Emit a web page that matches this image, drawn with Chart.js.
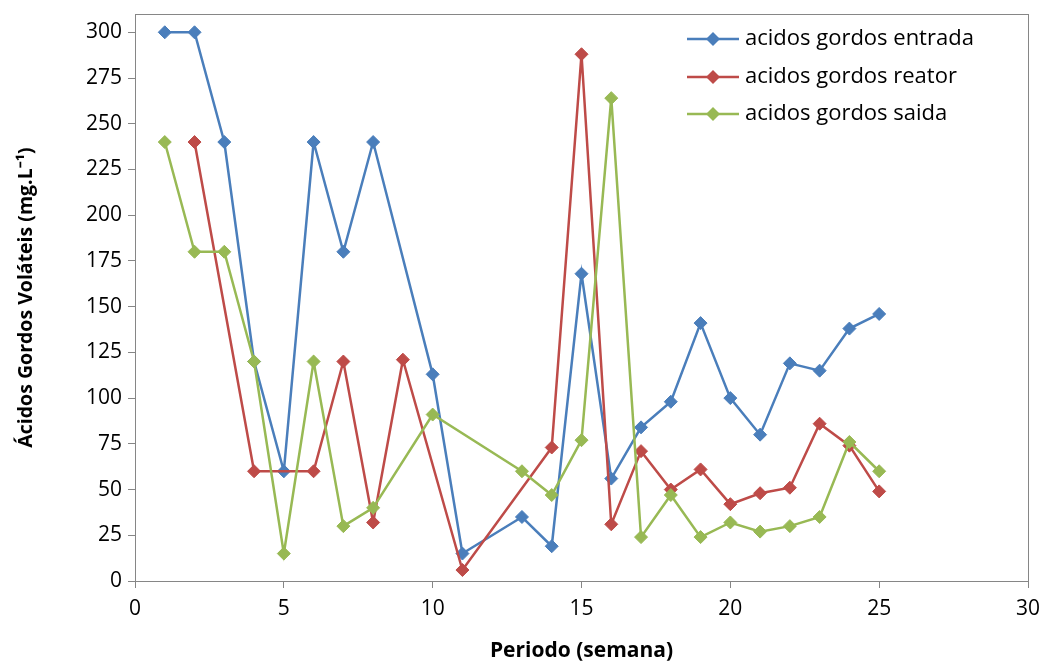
<!DOCTYPE html>
<html lang="pt">
<head>
<meta charset="UTF-8">
<title>Ácidos Gordos Voláteis</title>
<script src="https://cdn.jsdelivr.net/npm/chart.js"></script>
<style>
body { margin: 0; background: #fff; }
#wrap { width: 1043px; height: 668px; }
</style>
</head>
<body>
<div id="wrap"><canvas id="grafico"></canvas></div>
<script>
// semanas e valores
var semanasEntrada = [1, 2, 3, 4, 5, 6, 7, 8, 10, 11, 13, 14, 15, 16, 17, 18, 19, 20, 21, 22, 23, 24, 25];
var entrada = [300, 300, 240, 120, 60, 240, 180, 240, 113, 15, 35, 19, 168, 56, 84, 98, 141, 100, 80, 119, 115, 138, 146];

var semanasReator = [2, 4, 6, 7, 8, 9, 11, 14, 15, 16, 17, 18, 19, 20, 21, 22, 23, 24, 25];
var reator = [240, 60, 60, 120, 32, 121, 6, 73, 288, 31, 71, 50, 61, 42, 48, 51, 86, 74, 49];

var semanasSaida = [1, 2, 3, 4, 5, 6, 7, 8, 10, 13, 14, 15, 16, 17, 18, 19, 20, 21, 22, 23, 24, 25];
var saida = [240, 180, 180, 120, 15, 120, 30, 40, 91, 60, 47, 77, 264, 24, 47, 24, 32, 27, 30, 35, 76, 60];

// marcas do eixo y
var ticksY = [0, 25, 50, 75, 100, 125, 150, 175, 200, 225, 250, 275, 300];

var nomes = ['acidos gordos entrada', 'acidos gordos reator', 'acidos gordos saida'];
var cores = ['#4A7EBB', '#BE4B48', '#98B954'];

function pontos(xs, ys) {
    return xs.map(function(x, i) { return {x: x, y: ys[i]}; });
}

function serie(i, xs, ys) {
    return {
        label: nomes[i],
        data: pontos(xs, ys),
        borderColor: cores[i],
        backgroundColor: cores[i],
        borderWidth: 2.5,
        pointStyle: 'rectRot',
        pointRadius: 6.5,
        pointBorderWidth: 1,
        pointBorderColor: cores[i],
        pointBackgroundColor: cores[i],
        tension: 0,
        order: 2 - i
    };
}

// legenda dentro da área do gráfico + moldura
var legendaInterna = {
    id: 'legendaInterna',
    afterDraw: function(chart) {
        var ctx = chart.ctx;
        var a = chart.chartArea;
        ctx.save();
        ctx.strokeStyle = '#868686';
        ctx.lineWidth = 1;
        ctx.strokeRect(a.left + 0.5, a.top + 0.5, a.right - a.left, a.bottom - a.top);
        ctx.font = '22px "Open Sans"';
        ctx.textBaseline = 'middle';
        var ys = [39, 77, 114];
        for (var i = 0; i < nomes.length; i++) {
            ctx.strokeStyle = cores[i];
            ctx.fillStyle = cores[i];
            ctx.lineWidth = 2.5;
            ctx.beginPath();
            ctx.moveTo(687, ys[i]);
            ctx.lineTo(739, ys[i]);
            ctx.stroke();
            ctx.beginPath();
            ctx.moveTo(713, ys[i] - 7);
            ctx.lineTo(720, ys[i]);
            ctx.lineTo(713, ys[i] + 7);
            ctx.lineTo(706, ys[i]);
            ctx.closePath();
            ctx.fill();
            ctx.fillStyle = '#000';
            ctx.fillText(nomes[i], 745, ys[i]);
        }
        ctx.restore();
    }
};

var grafico = new Chart(document.getElementById('grafico'), {
    type: 'line',
    data: {
        datasets: [
            serie(0, semanasEntrada, entrada),
            serie(1, semanasReator, reator),
            serie(2, semanasSaida, saida)
        ]
    },
    options: {
        responsive: true,
        maintainAspectRatio: false,
        animation: false,
        layout: { padding: { top: 14, right: 15, left: 0, bottom: 0 } },
        plugins: { legend: { display: false }, tooltip: { enabled: false } },
        scales: {
            x: {
                type: 'linear',
                min: 0,
                max: 30,
                ticks: { stepSize: 5, color: '#000', font: { family: 'Open Sans', size: 21 }, padding: 8 },
                grid: { drawOnChartArea: false, drawTicks: true, tickLength: 7, color: '#868686' },
                border: { color: '#868686' },
                title: { display: true, text: 'Periodo (semana)', color: '#000', font: { family: 'Open Sans', size: 21, weight: 'bold' }, padding: { top: 14 } },
                afterFit: function(s) {
                    s.height = 87;
                    s.paddingLeft = 0;
                    s.paddingRight = 0;
                }
            },
            y: {
                min: 0,
                max: 310,
                ticks: { color: '#000', font: { family: 'Open Sans', size: 21 }, padding: 6 },
                afterBuildTicks: function(s) {
                    s.ticks = ticksY.map(function(v) { return {value: v}; });
                },
                grid: { drawOnChartArea: false, drawTicks: true, tickLength: 7, color: '#868686' },
                border: { color: '#868686' },
                title: { display: true, text: 'Ácidos Gordos Voláteis (mg.L⁻¹)', color: '#000', font: { family: 'Open Sans', size: 19.5, weight: 'bold' }, padding: { top: 15, bottom: 6 } },
                afterFit: function(s) {
                    s.width = 135;
                    s.paddingTop = 0;
                    s.paddingBottom = 0;
                }
            }
        }
    },
    plugins: [legendaInterna]
});
</script>
</body>
</html>
